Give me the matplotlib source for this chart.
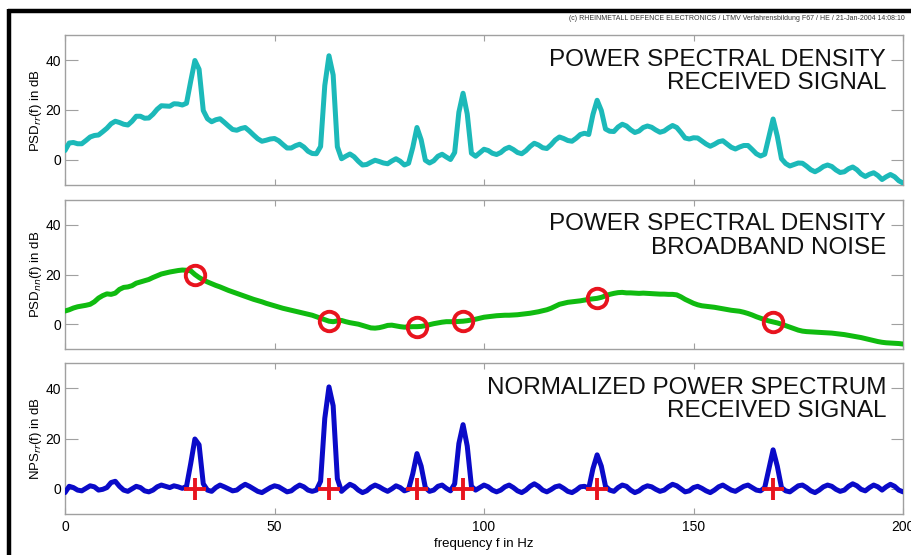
import numpy as np
import matplotlib
matplotlib.use("Agg")
import matplotlib.pyplot as plt
from matplotlib.lines import Line2D

plt.rcParams['font.family'] = ['Liberation Sans', 'DejaVu Sans']

# frequency axis (Hz), 1 Hz steps
freq = np.arange(0, 201)

# broadband noise PSD (dB)
psd_noise = [
    5.3, 5.8, 6.5, 7.0, 7.3, 7.6, 8.0, 9.0, 10.5, 11.5, 12.2,
    12.0, 12.5, 14.0, 14.8, 15.0, 15.5, 16.5, 17.0, 17.5, 18.0,
    18.8, 19.5, 20.2, 20.6, 21.0, 21.3, 21.6, 21.8, 21.7, 21.5,
    20.0, 18.8, 17.8, 17.0, 16.3, 15.6, 15.0, 14.3, 13.6, 13.0,
    12.4, 11.8, 11.2, 10.6, 10.0, 9.5, 9.0, 8.4, 7.9, 7.4,
    6.9, 6.4, 6.0, 5.6, 5.2, 4.8, 4.4, 4.0, 3.6, 3.0,
    2.4, 1.8, 1.2, 1.0, 1.3, 1.5, 1.0, 0.6, 0.3, 0.0,
    -0.5, -1.0, -1.5, -1.6, -1.4, -1.0, -0.5, -0.4, -0.7, -1.0,
    -1.2, -1.1, -1.0, -1.0, -0.9, -0.6, -0.2, 0.2, 0.5, 0.8,
    1.0, 1.0, 1.0, 1.1, 1.2, 1.4, 1.7, 2.0, 2.4, 2.8,
    3.0, 3.2, 3.4, 3.5, 3.6, 3.6, 3.7, 3.8, 4.0, 4.2,
    4.4, 4.7, 5.0, 5.4, 5.8, 6.4, 7.2, 8.0, 8.4, 8.8,
    9.0, 9.2, 9.4, 9.7, 10.0, 10.2, 10.4, 10.8, 11.4, 12.0,
    12.4, 12.7, 12.8, 12.6, 12.6, 12.5, 12.4, 12.5, 12.4, 12.3,
    12.2, 12.1, 12.1, 12.0, 12.0, 11.8, 11.0, 10.0, 9.2, 8.4,
    7.8, 7.4, 7.2, 7.0, 6.8, 6.5, 6.2, 5.9, 5.6, 5.4,
    5.2, 4.8, 4.3, 3.7, 3.0, 2.4, 1.8, 1.3, 0.9, 0.5,
    0.0, -0.6, -1.2, -1.8, -2.4, -2.8, -3.0, -3.1, -3.2, -3.3,
    -3.4, -3.5, -3.6, -3.8, -4.0, -4.2, -4.5, -4.8, -5.1, -5.4,
    -5.8, -6.2, -6.6, -7.0, -7.3, -7.5, -7.6, -7.7, -7.8, -8.0,
]

# normalized power spectrum of the received signal (dB)
nps_signal = (
    [-1.5, 1.0, 0.5, -0.5, -0.8, 0.2, 1.2, 0.8, -0.5, -0.2, 0.5]
    + [2.5, 3.0, 1.0, -0.5, -1.0, 0.0, 1.0, 0.5, -0.8, -1.2]
    + [-0.5, 0.8, 1.5, 1.0, 0.5, 1.2, 0.8, 0.2, 1.0]
    + [10.0, 19.8, 17.5, 2.0]
    + [-0.5, -1.0, 0.5, 1.5, 0.8, 0.0, -0.8]
    + [-0.5, 0.8, 1.8, 1.0, 0.0, -1.0, -1.5, -0.5, 0.5, 1.2]
    + [0.8, -0.2, -1.2, -0.8, 0.5, 1.5, 0.8, -0.5, -1.0, -0.5]
    + [3.0, 28.0, 40.5, 33.0, 4.0]
    + [-1.0, 0.5, 1.8, 1.0, -0.5, -1.5, -0.8, 0.6, 1.5, 0.8,
       -0.2, -1.0, 0.0, 1.2, 0.5, -0.8, -0.2]
    + [6.0, 14.0, 9.0, 0.5]
    + [-1.0, -0.5, 1.0, 1.5, 0.2, -0.8]
    + [2.0, 18.0, 25.5, 17.0, 1.0]
    + [-0.5, 0.5, 1.5, 0.8, -0.5, -1.2, -0.5, 0.8, 1.5, 0.5,
       -0.8, -1.5, -0.5, 1.0, 2.0, 1.0, -0.5, -1.2, -0.3, 0.8,
       1.2, 0.2, -1.0, -1.5, -0.5, 0.8, 1.0, 0.2]
    + [8.0, 13.5, 9.0, 1.0]
    + [-0.5, -1.0, 0.5, 1.5, 1.0, -0.5, -1.5, -0.8, 0.5, 1.2,
       0.8, -0.2, -1.0, -0.5, 0.8, 1.8, 1.2, 0.0, -1.2, -0.8,
       0.5, 1.0, 0.2, -0.8, -1.5, -0.5, 0.8, 1.5, 0.5, -0.5,
       -1.0, 0.0, 1.0, 1.5, 0.5, -0.5, -0.8, 0.5]
    + [8.0, 15.5, 9.0, 0.5]
    + [-0.8, -1.2, 0.0, 1.2, 1.5, 0.5, -0.8, -1.5, -0.5, 0.8,
       1.5, 1.0, -0.2, -1.0, -0.5, 1.0, 2.0, 1.2, -0.2, -0.8,
       0.5, 1.5, 0.8, -0.5, 0.8, 1.8, 1.0, -0.5, -1.2]
)

# detected tonal components (Hz)
peak_freqs = [31, 63, 84, 95, 127, 169]

x_ticks = [0, 50, 100, 150, 200]
y_ticks = [0, 20, 40]

panel_titles = [
    "POWER SPECTRAL DENSITY\nRECEIVED SIGNAL",
    "POWER SPECTRAL DENSITY\nBROADBAND NOISE",
    "NORMALIZED POWER SPECTRUM\nRECEIVED SIGNAL",
]
y_labels = [
    r"PSD$_{rr}$(f) in dB",
    r"PSD$_{nn}$(f) in dB",
    r"NPS$_{rr}$(f) in dB",
]
x_label = "frequency f in Hz"
header = ("(c) RHEINMETALL DEFENCE ELECTRONICS / LTMV Verfahrensbildung F67 / HE / "
          "21-Jan-2004 14:08:10")

line_colors = ["#1cb9b9", "#10bb10", "#0a0ac8"]

noise = np.asarray(psd_noise)
nps = np.asarray(nps_signal)
received = noise + nps
series = [received, noise, nps]

W, H = 911, 555
fig = plt.figure(figsize=(W / 100, H / 100), dpi=100)
fig.patch.set_facecolor("white")

# axes boxes in pixel coordinates: (top, bottom)
boxes = [(35, 185), (200, 349), (363, 514)]
left_px, right_px = 65, 903

axes = []
for i, (t, b) in enumerate(boxes):
    ax = fig.add_axes([left_px / W, 1 - b / H, (right_px - left_px) / W, (b - t) / H])
    axes.append(ax)
    ax.plot(freq, series[i], color=line_colors[i], lw=3.6,
            solid_joinstyle="round", solid_capstyle="round", zorder=3)
    ax.set_xlim(0, 200)
    ax.set_ylim(-10, 50)
    ax.set_xticks(x_ticks)
    ax.set_yticks(y_ticks)
    for s in ax.spines.values():
        s.set_color("#a0a0a0")
        s.set_linewidth(1.0)
    ax.tick_params(axis="y", direction="in", length=9, width=0.8, color="#a0a0a0",
                   left=True, right=True, labelsize=10, pad=3)
    ax.tick_params(axis="x", direction="in", length=4, width=0.8, color="#a0a0a0",
                   top=True, bottom=True, labelsize=10, pad=4)
    if i < 2:
        ax.tick_params(axis="x", labelbottom=False)
    ax.set_ylabel(y_labels[i], fontsize=9.5, labelpad=1)
    ax.text(0.980, 0.91, panel_titles[i], transform=ax.transAxes, ha="right", va="top",
            fontsize=17.5, linespacing=1.1, color="#111111")

# red circles on the noise estimate at each tonal frequency
axes[1].plot(peak_freqs, noise[peak_freqs], linestyle="none", marker="o", ms=14,
             mfc="none", mec="#e8141e", mew=2.8, zorder=4)
# red crosses at the tonal frequencies on the 0 dB line
axes[2].plot(peak_freqs, np.zeros(len(peak_freqs)), linestyle="none", marker="+", ms=16,
             mec="#e8141e", mew=2.8, zorder=4)

axes[2].set_xlabel(x_label, fontsize=9.5, labelpad=3)

fig.text(905 / W, 1 - 19 / H, header, ha="right", va="center", fontsize=5.0,
         color="#333333")

# heavy frame lines at top and left
fig.add_artist(Line2D([8 / W, 1.0], [1 - 10.5 / H, 1 - 10.5 / H], color="black", lw=3.2,
                      transform=fig.transFigure, solid_capstyle="butt"))
fig.add_artist(Line2D([8.5 / W, 8.5 / W], [0.0, 1 - 9 / H], color="black", lw=3.2,
                      transform=fig.transFigure, solid_capstyle="butt"))

fig.savefig("out.png", dpi=100, facecolor="white")
